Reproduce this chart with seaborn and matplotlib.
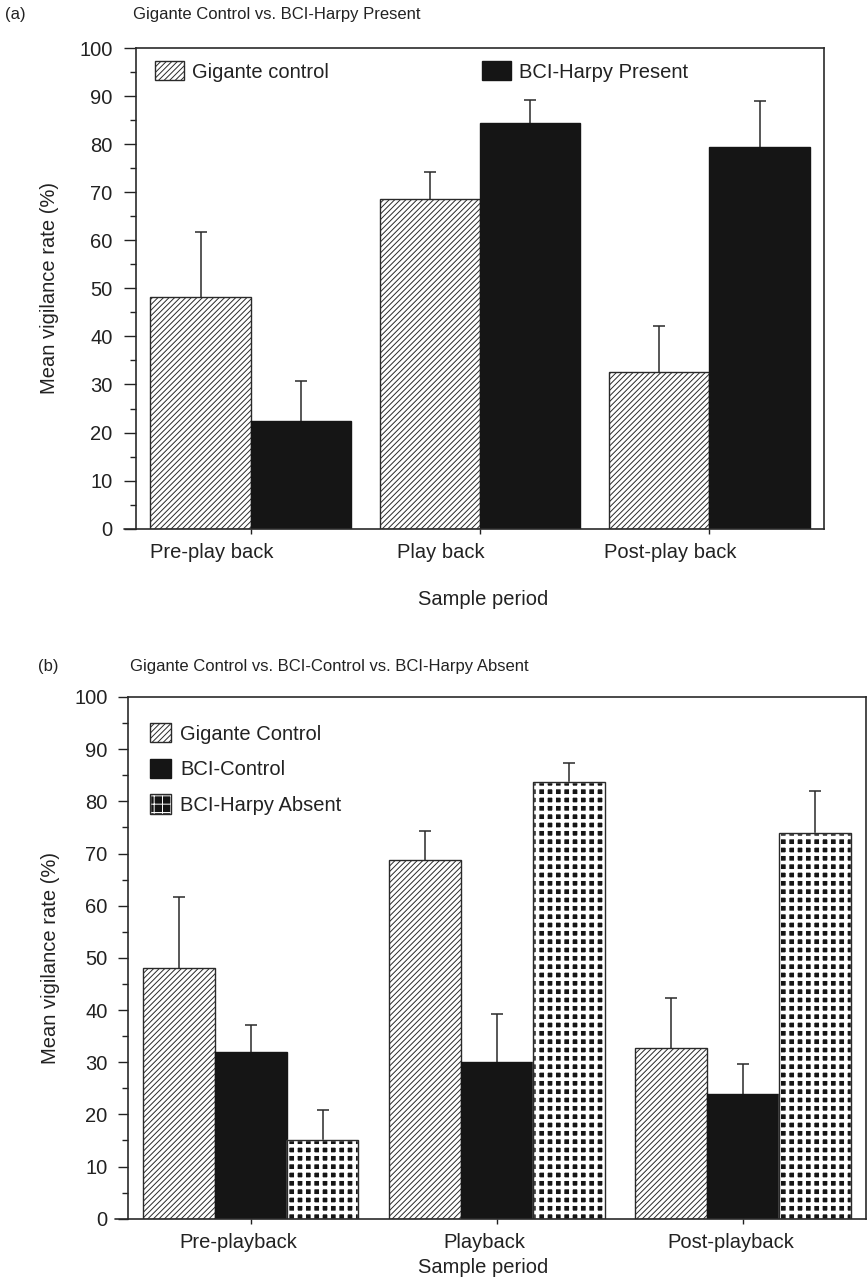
import numpy as np
import pandas as pd
import matplotlib
matplotlib.use("Agg")
import matplotlib.pyplot as plt
import matplotlib.transforms as mtransforms
from matplotlib.patches import Patch, Rectangle
from matplotlib.lines import Line2D
from matplotlib.legend_handler import HandlerTuple
import seaborn as sns

# Panel (a) data
periods_a = ["Pre-play back", "Play back", "Post-play back"]
groups_a = ["Gigante control", "BCI-Harpy Present"]
gigante_a = [48.1, 68.6, 32.6]
gigante_a_err = [13.6, 5.7, 9.6]
harpy_present = [22.5, 84.3, 79.4]
harpy_present_err = [8.3, 4.8, 9.6]

# Panel (b) data
periods_b = ["Pre-playback", "Playback", "Post-playback"]
groups_b = ["Gigante Control", "BCI-Control", "BCI-Harpy Absent"]
gigante_b = [48.0, 68.7, 32.7]
gigante_b_err = [13.7, 5.7, 9.6]
bci_control = [31.9, 30.1, 23.9]
bci_control_err = [5.2, 9.1, 5.7]
harpy_absent = [15.0, 83.7, 74.0]
harpy_absent_err = [5.9, 3.6, 7.9]

yticks = list(range(0, 101, 10))

sns.set_style("ticks")
plt.rcParams["font.family"] = ["Liberation Sans", "DejaVu Sans"]
plt.rcParams["hatch.linewidth"] = 0.7
plt.rcParams["text.color"] = "#222222"
plt.rcParams["axes.labelcolor"] = "#222222"
plt.rcParams["xtick.color"] = "#222222"
plt.rcParams["ytick.color"] = "#222222"

EDGE = "#2a2a2a"
DARK = "#151515"
FS = 14.5


def set_hatch_lw(patch, lw):
    if hasattr(patch, "set_hatch_linewidth"):
        patch.set_hatch_linewidth(lw)
    else:
        patch._hatch_linewidth = lw


def style_bar(ax, bar, style):
    if style == "hatch":
        bar.set_facecolor("white")
        bar.set_edgecolor(EDGE)
        bar.set_hatch("//////")
    elif style == "solid":
        bar.set_facecolor(DARK)
        bar.set_edgecolor(DARK)
    else:
        # black face with a white grid gives the dotted look
        bar.set_facecolor(DARK)
        bar.set_edgecolor("white")
        bar.set_hatch("++")
        set_hatch_lw(bar, 2.6)
        ax.add_patch(Rectangle(bar.get_xy(), bar.get_width(), bar.get_height(),
                               fill=False, edgecolor=EDGE, linewidth=1.0,
                               zorder=bar.get_zorder() + 0.1))


def legend_handle(style):
    if style == "hatch":
        return Patch(facecolor="white", edgecolor=EDGE, hatch="//////", linewidth=1.0)
    if style == "solid":
        return Patch(facecolor=DARK, edgecolor=DARK)
    dots = Patch(facecolor=DARK, edgecolor="white", hatch="++", linewidth=1.0)
    set_hatch_lw(dots, 2.6)
    return (dots, Patch(fill=False, edgecolor=EDGE, linewidth=1.0))


def draw_panel(ax, periods, groups, values, errors, styles, tick_len, tick_pad, label_dx):
    rows = []
    for g, vals in zip(groups, values):
        for p, v in zip(periods, vals):
            rows.append({"period": p, "group": g, "value": v})
    df = pd.DataFrame(rows)
    palette = {g: ("white" if s == "hatch" else DARK) for g, s in zip(groups, styles)}
    sns.barplot(data=df, x="period", y="value", hue="group", order=periods,
                hue_order=groups, palette=palette, saturation=1, width=0.875,
                gap=0, errorbar=None, edgecolor=EDGE, linewidth=1.0,
                legend=False, ax=ax)
    containers = list(ax.containers)
    for cont, style, err in zip(containers, styles, errors):
        xs, ys = [], []
        for bar in cont:
            style_bar(ax, bar, style)
            xs.append(bar.get_x() + bar.get_width() / 2)
            ys.append(bar.get_height())
        eb = ax.errorbar(xs, ys, yerr=[np.zeros(len(err)), err], fmt="none",
                         ecolor=EDGE, elinewidth=1.1, capsize=4.5, capthick=1.1,
                         zorder=0.5)
        # only the upper cap is drawn in the original
        eb[1][0].set_visible(False)

    ax.set_xlim(-0.5, 2.5)
    ax.set_ylim(0, 100)
    ax.set_yticks(yticks)
    ax.set_yticks(range(5, 100, 10), minor=True)
    ax.tick_params(axis="y", which="major", length=tick_len, width=1.0,
                   pad=tick_pad, labelsize=FS)
    ax.tick_params(axis="y", which="minor", length=4, width=1.0)
    ax.tick_params(axis="x", length=3.5, width=1.0, pad=7, labelsize=FS)
    for sp in ax.spines.values():
        sp.set_visible(True)
        sp.set_color(EDGE)
        sp.set_linewidth(1.2)
    ax.set_ylabel("Mean vigilance rate (%)", fontsize=FS)
    ax.set_xlabel("Sample period", fontsize=FS)
    # x axis line runs a little past the y axis
    ax.add_line(Line2D([-0.017, 0], [0, 0], transform=ax.transAxes,
                       color=EDGE, linewidth=1.2, clip_on=False))
    shift = mtransforms.ScaledTranslation(label_dx / 100, 0, ax.figure.dpi_scale_trans)
    for lab in ax.get_xticklabels():
        lab.set_transform(lab.get_transform() + shift)


fig = plt.figure(figsize=(8.68, 12.86), dpi=100)
W, H = 868, 1286


def px_axes(left, top, right, bottom):
    return fig.add_axes([left / W, 1 - bottom / H, (right - left) / W, (bottom - top) / H])


# (a)
ax1 = px_axes(136, 48, 824, 528.7)
styles_a = ["hatch", "solid"]
draw_panel(ax1, periods_a, groups_a, [gigante_a, harpy_present],
           [gigante_a_err, harpy_present_err], styles_a,
           tick_len=9, tick_pad=8, label_dx=-39)
ax1.yaxis.set_label_coords(-0.112, 0.5)
ax1.xaxis.set_label_coords(0.504, -0.128)
ax1.legend([legend_handle(s) for s in styles_a], groups_a, ncol=2,
           loc="upper left", bbox_to_anchor=(0.027, 0.972), frameon=False,
           fontsize=FS, handlelength=1.45, handleheight=1.05, handletextpad=0.4,
           columnspacing=7.6, borderpad=0, borderaxespad=0)
fig.text(5 / W, 1 - 15 / H, "(a)", fontsize=12, va="center", ha="left")
fig.text(133 / W, 1 - 15 / H, "Gigante Control vs. BCI-Harpy Present",
         fontsize=12, va="center", ha="left")

# (b)
ax2 = px_axes(127.7, 697, 866, 1218.7)
styles_b = ["hatch", "solid", "dots"]
draw_panel(ax2, periods_b, groups_b, [gigante_b, bci_control, harpy_absent],
           [gigante_b_err, bci_control_err, harpy_absent_err], styles_b,
           tick_len=7.5, tick_pad=7, label_dx=-12)
ax2.yaxis.set_label_coords(-0.092, 0.5)
ax2.xaxis.set_label_coords(0.481, -0.075)
ax2.legend([legend_handle(s) for s in styles_b], groups_b, ncol=1,
           loc="upper left", bbox_to_anchor=(0.030, 0.950), frameon=False,
           fontsize=FS, handlelength=1.05, handleheight=1.1, handletextpad=0.45,
           labelspacing=0.75, borderpad=0, borderaxespad=0,
           handler_map={tuple: HandlerTuple(ndivide=1, pad=0)})
fig.text(38 / W, 1 - 667 / H, "(b)", fontsize=12, va="center", ha="left")
fig.text(130 / W, 1 - 667 / H, "Gigante Control vs. BCI-Control vs. BCI-Harpy Absent",
         fontsize=12, va="center", ha="left")

fig.savefig("out.png", dpi=100)
